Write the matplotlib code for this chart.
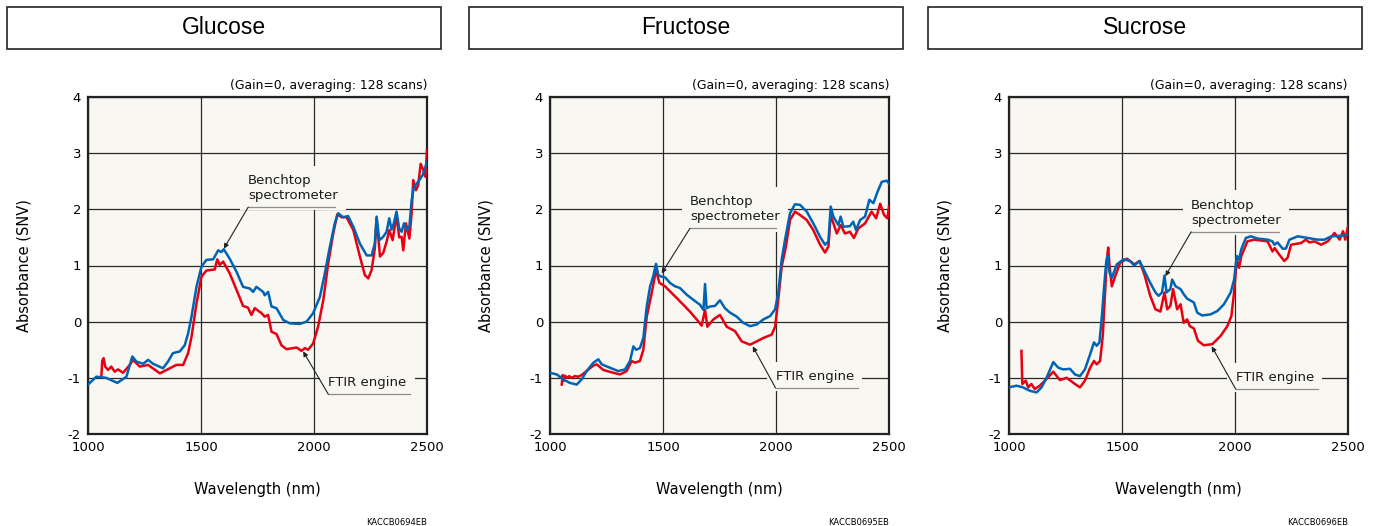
"""NIR spectra of three sugars: benchtop spectrometer vs. FTIR engine."""

import matplotlib.pyplot as plt
import numpy as np
from matplotlib.patches import Rectangle

plt.rcParams["axes.unicode_minus"] = False

SAMPLES = ["Glucose", "Fructose", "Sucrose"]
FIG_CODES = ["KACCB0694EB", "KACCB0695EB", "KACCB0696EB"]
X_TICKS = [1000, 1500, 2000, 2500]
Y_TICKS = [-2, -1, 0, 1, 2, 3, 4]
NOTE_TEXT = "(Gain=0, averaging: 128 scans)"

# (wavelength nm, absorbance SNV)
glucose_bench = [
    (1000, -1.12), (1037, -0.98), (1080, -1.0), (1130, -1.09), (1170, -0.98),
    (1196, -0.62), (1214, -0.71), (1244, -0.75), (1266, -0.68), (1288, -0.75),
    (1332, -0.83), (1354, -0.71), (1376, -0.56), (1406, -0.53), (1428, -0.42),
    (1443, -0.21), (1458, 0.09), (1480, 0.62), (1502, 0.98), (1524, 1.1),
    (1554, 1.11), (1576, 1.27), (1590, 1.24), (1601, 1.29), (1627, 1.12),
    (1657, 0.89), (1686, 0.62), (1716, 0.59), (1731, 0.53), (1745, 0.62),
    (1775, 0.53), (1782, 0.47), (1797, 0.53), (1812, 0.27), (1834, 0.24),
    (1864, 0.03), (1893, -0.03), (1937, -0.04), (1967, 0.0), (1996, 0.15),
    (2026, 0.44), (2048, 0.86), (2070, 1.33), (2092, 1.75), (2107, 1.93),
    (2129, 1.86), (2151, 1.88), (2174, 1.69), (2203, 1.39), (2233, 1.18),
    (2255, 1.18), (2269, 1.39), (2277, 1.87), (2289, 1.45), (2306, 1.51),
    (2321, 1.6), (2333, 1.84), (2343, 1.64), (2353, 1.75), (2365, 1.96),
    (2377, 1.66), (2388, 1.6), (2398, 1.75), (2410, 1.63), (2422, 1.69),
    (2432, 2.16), (2442, 2.4), (2461, 2.49), (2481, 2.61), (2500, 2.84),
]
glucose_ftir = [
    (1059, -0.98), (1063, -0.70), (1069, -0.65), (1076, -0.80), (1089, -0.86),
    (1103, -0.80), (1118, -0.89), (1133, -0.85), (1155, -0.91), (1185, -0.77),
    (1199, -0.68), (1229, -0.80), (1266, -0.77), (1318, -0.92), (1362, -0.83),
    (1391, -0.77), (1421, -0.77), (1443, -0.56), (1458, -0.27), (1480, 0.32),
    (1502, 0.80), (1524, 0.91), (1561, 0.93), (1572, 1.11), (1583, 1.01),
    (1598, 1.07), (1627, 0.86), (1664, 0.50), (1686, 0.28), (1708, 0.25),
    (1723, 0.12), (1738, 0.24), (1768, 0.15), (1782, 0.09), (1797, 0.12),
    (1812, -0.18), (1834, -0.22), (1856, -0.42), (1878, -0.49), (1923, -0.46),
    (1945, -0.52), (1960, -0.47), (1974, -0.50), (1996, -0.39), (2018, -0.09),
    (2041, 0.38), (2063, 1.04), (2085, 1.57), (2103, 1.91), (2122, 1.86),
    (2144, 1.86), (2174, 1.63), (2203, 1.16), (2225, 0.83), (2240, 0.77),
    (2255, 0.92), (2269, 1.30), (2277, 1.84), (2292, 1.16), (2306, 1.22),
    (2321, 1.42), (2333, 1.63), (2348, 1.45), (2365, 1.90), (2377, 1.50),
    (2388, 1.51), (2395, 1.27), (2407, 1.75), (2422, 1.48), (2432, 1.93),
    (2439, 2.52), (2451, 2.34), (2461, 2.43), (2472, 2.81), (2484, 2.70),
    (2493, 2.58), (2500, 3.05),
]

fructose_bench = [
    (1000, -0.91), (1030, -0.94), (1059, -1.03), (1088, -1.09), (1118, -1.12),
    (1140, -1.03), (1162, -0.88), (1192, -0.73), (1214, -0.67), (1229, -0.76),
    (1265, -0.82), (1302, -0.88), (1332, -0.85), (1354, -0.70), (1369, -0.44),
    (1381, -0.50), (1398, -0.47), (1413, -0.29), (1428, 0.27), (1443, 0.63),
    (1457, 0.81), (1469, 1.03), (1479, 0.83), (1494, 0.80), (1509, 0.79),
    (1531, 0.69), (1553, 0.63), (1575, 0.60), (1605, 0.48), (1634, 0.39),
    (1664, 0.30), (1679, 0.21), (1686, 0.67), (1693, 0.24), (1708, 0.27),
    (1730, 0.28), (1752, 0.38), (1774, 0.24), (1797, 0.16), (1826, 0.09),
    (1855, -0.02), (1885, -0.08), (1915, -0.05), (1944, 0.04), (1974, 0.10),
    (1996, 0.22), (2010, 0.51), (2025, 1.10), (2040, 1.46), (2062, 1.93),
    (2084, 2.09), (2106, 2.08), (2136, 1.96), (2165, 1.75), (2195, 1.51),
    (2217, 1.37), (2232, 1.43), (2242, 2.05), (2254, 1.87), (2276, 1.72),
    (2286, 1.87), (2298, 1.69), (2327, 1.70), (2342, 1.78), (2354, 1.63),
    (2372, 1.81), (2394, 1.87), (2413, 2.17), (2431, 2.11), (2449, 2.31),
    (2468, 2.49), (2490, 2.51), (2500, 2.46),
]
fructose_ftir = [
    (1052, -1.12), (1056, -0.95), (1060, -1.05), (1066, -0.96), (1075, -1.0),
    (1085, -0.97), (1095, -1.0), (1110, -0.97), (1125, -0.98), (1140, -0.95),
    (1162, -0.88), (1192, -0.78), (1207, -0.76), (1236, -0.86), (1280, -0.91),
    (1310, -0.94), (1339, -0.88), (1361, -0.70), (1376, -0.73), (1398, -0.70),
    (1413, -0.50), (1428, 0.09), (1450, 0.51), (1469, 0.92), (1484, 0.69),
    (1509, 0.63), (1531, 0.54), (1561, 0.42), (1583, 0.33), (1619, 0.18),
    (1649, 0.04), (1671, -0.07), (1686, 0.21), (1696, -0.09), (1723, 0.04),
    (1752, 0.12), (1782, -0.09), (1819, -0.17), (1848, -0.35), (1885, -0.41),
    (1915, -0.35), (1944, -0.29), (1981, -0.23), (1996, -0.09), (2010, 0.39),
    (2025, 0.98), (2044, 1.34), (2062, 1.81), (2084, 1.96), (2106, 1.90),
    (2136, 1.81), (2165, 1.63), (2195, 1.37), (2217, 1.23), (2232, 1.34),
    (2242, 1.90), (2254, 1.75), (2269, 1.57), (2286, 1.72), (2305, 1.57),
    (2327, 1.60), (2345, 1.49), (2364, 1.66), (2394, 1.75), (2423, 1.96),
    (2443, 1.84), (2461, 2.10), (2478, 1.90), (2493, 1.84), (2500, 2.05),
]

sucrose_bench = [
    (1000, -1.17), (1033, -1.14), (1062, -1.17), (1092, -1.23), (1122, -1.26),
    (1144, -1.17), (1166, -1.0), (1196, -0.72), (1218, -0.82), (1240, -0.85),
    (1270, -0.84), (1292, -0.94), (1314, -0.97), (1336, -0.85), (1359, -0.58),
    (1376, -0.37), (1388, -0.43), (1400, -0.37), (1411, 0.10), (1421, 0.63),
    (1430, 1.05), (1436, 1.17), (1445, 0.87), (1455, 0.78), (1477, 1.02),
    (1507, 1.11), (1536, 1.08), (1554, 1.0), (1578, 1.08), (1596, 0.93),
    (1625, 0.69), (1648, 0.52), (1662, 0.46), (1677, 0.52), (1688, 0.82),
    (1697, 0.52), (1714, 0.58), (1722, 0.75), (1737, 0.63), (1759, 0.58),
    (1773, 0.49), (1788, 0.41), (1806, 0.37), (1818, 0.34), (1833, 0.16),
    (1855, 0.11), (1892, 0.13), (1922, 0.19), (1951, 0.31), (1981, 0.52),
    (1996, 0.75), (2008, 1.17), (2018, 1.11), (2028, 1.29), (2048, 1.49),
    (2070, 1.52), (2100, 1.48), (2144, 1.46), (2166, 1.43), (2174, 1.37),
    (2188, 1.41), (2211, 1.30), (2225, 1.30), (2241, 1.46), (2278, 1.52),
    (2322, 1.49), (2366, 1.46), (2396, 1.46), (2426, 1.52), (2470, 1.53),
    (2500, 1.55),
]
sucrose_ftir = [
    (1055, -0.52), (1059, -1.11), (1074, -1.05), (1085, -1.17), (1099, -1.11),
    (1114, -1.20), (1136, -1.14), (1159, -1.05), (1196, -0.89), (1225, -1.04),
    (1255, -1.0), (1292, -1.11), (1314, -1.17), (1336, -1.05), (1359, -0.82),
    (1376, -0.70), (1388, -0.76), (1403, -0.70), (1415, -0.25), (1425, 0.52),
    (1433, 1.11), (1439, 1.32), (1445, 0.99), (1455, 0.63), (1470, 0.81),
    (1492, 1.05), (1522, 1.12), (1554, 1.02), (1578, 1.08), (1599, 0.84),
    (1625, 0.46), (1648, 0.22), (1670, 0.18), (1688, 0.52), (1700, 0.22),
    (1714, 0.28), (1726, 0.58), (1744, 0.22), (1759, 0.31), (1773, -0.02),
    (1788, 0.04), (1800, -0.08), (1818, -0.12), (1836, -0.34), (1862, -0.42),
    (1900, -0.40), (1937, -0.25), (1966, -0.08), (1984, 0.10), (1996, 0.52),
    (2008, 1.11), (2018, 0.96), (2028, 1.17), (2055, 1.43), (2085, 1.46),
    (2144, 1.43), (2166, 1.25), (2176, 1.31), (2191, 1.22), (2218, 1.08),
    (2233, 1.14), (2248, 1.37), (2292, 1.40), (2314, 1.46), (2329, 1.41),
    (2351, 1.43), (2381, 1.37), (2411, 1.43), (2440, 1.58), (2463, 1.46),
    (2478, 1.61), (2488, 1.46), (2500, 1.70),
]

BENCH = [glucose_bench, fructose_bench, sucrose_bench]
FTIR = [glucose_ftir, fructose_ftir, sucrose_ftir]

# label placement per panel: left x, underline y, underline right x, arrow tip
BENCH_LABELS = [
    (1709, 2.04, 2092, (1601, 1.30)),
    (1619, 1.66, 1998, (1494, 0.86)),
    (1806, 1.60, 2196, (1692, 0.81)),
]
FTIR_LABELS = [
    (2063, -1.29, 2425, (1952, -0.53)),
    (1998, -1.18, 2364, (1897, -0.44)),
    (2003, -1.20, 2366, (1897, -0.44)),
]

BG = "#f8f7f1"
RED = "#e60012"
BLUE = "#0064b4"
GRID = "#2a2a2a"
FONT = "DejaVu Sans"


def add_label(ax, text, x, y_line, x_end, tip):
    """Text with a plain backing box, grey underline and a leader arrow."""
    ax.text(x, y_line + 0.09, text, fontsize=9.5, family=FONT, color="#1a1a1a",
            ha="left", va="bottom", linespacing=1.2, zorder=3,
            bbox=dict(facecolor=BG, edgecolor="none", pad=6))
    ax.plot([x, x_end], [y_line, y_line], color="#8c8c8c", lw=0.9, zorder=4)
    ax.annotate("", xy=tip, xytext=(x, y_line), zorder=4,
                arrowprops=dict(arrowstyle="-|>", color="#222", lw=0.8,
                                mutation_scale=7, shrinkA=0, shrinkB=0))


def draw_panel(fig, ax, idx):
    bench = np.array(BENCH[idx]).T
    ftir = np.array(FTIR[idx]).T

    ax.set_facecolor(BG)
    ax.set_xlim(1000, 2500)
    ax.set_ylim(-2, 4)
    ax.set_xticks(X_TICKS)
    ax.set_yticks(Y_TICKS)
    ax.tick_params(length=0, labelsize=9.5, pad=5)
    for lab in ax.get_xticklabels() + ax.get_yticklabels():
        lab.set_family(FONT)
    ax.grid(True, color=GRID, lw=0.9, zorder=1)
    ax.set_axisbelow(True)
    for sp in ax.spines.values():
        sp.set_linewidth(1.6)
        sp.set_color("#222")

    ax.plot(ftir[0], ftir[1], color=RED, lw=1.8, zorder=5)
    ax.plot(bench[0], bench[1], color=BLUE, lw=1.8, zorder=6)

    add_label(ax, "Benchtop\nspectrometer", *BENCH_LABELS[idx])
    add_label(ax, "FTIR engine", *FTIR_LABELS[idx])

    ax.set_xlabel("Wavelength (nm)", fontsize=10.5, family=FONT)
    ax.xaxis.set_label_coords(0.5, -0.143)
    ax.set_ylabel("Absorbance (SNV)", fontsize=10.5, family=FONT)
    ax.yaxis.set_label_coords(-0.168, 0.5)
    ax.text(1.0, 1.015, NOTE_TEXT, transform=ax.transAxes, fontsize=8.9,
            family=FONT, ha="right", va="bottom")
    ax.text(1.0, -0.25, FIG_CODES[idx], transform=ax.transAxes, fontsize=6,
            family=FONT, ha="right", va="top")

    # title box above the panel
    pos = ax.get_position()
    bx = pos.x0 - 81 / 1375
    bw = 434 / 1375
    by = 1 - 49 / 526
    bh = 42 / 526
    fig.add_artist(Rectangle((bx, by), bw, bh, transform=fig.transFigure,
                             facecolor="white", edgecolor="#222", lw=1.2))
    fig.text(bx + bw / 2, by + bh / 2, SAMPLES[idx], fontsize=16.5,
             family="Liberation Sans", ha="center", va="center")


def main():
    fig = plt.figure(figsize=(13.75, 5.26), dpi=100)
    lefts = [88, 550, 1009]
    for i, left in enumerate(lefts):
        ax = fig.add_axes([left / 1375, 92 / 526, 339 / 1375, 337 / 526])
        draw_panel(fig, ax, i)
    fig.savefig("out.png", dpi=100, facecolor="white")


if __name__ == "__main__":
    main()
